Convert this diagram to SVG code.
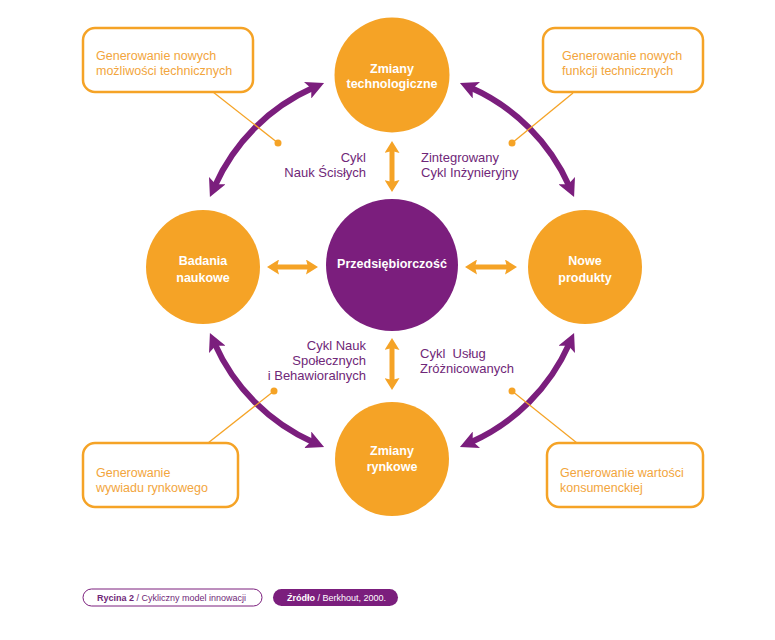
<svg xmlns="http://www.w3.org/2000/svg" width="775" height="640" viewBox="0 0 775 640">
<style>
.orn{fill:#F5A326}
.pur{fill:#7B1E7D}
.nlab{font-family:"Liberation Sans",Arial,sans-serif;font-weight:bold;font-size:12.5px;fill:#fff;text-anchor:middle}
.plab{font-family:"Liberation Sans",Arial,sans-serif;font-size:13px;fill:#6F2778}
.box{fill:#fff;stroke:#F5A326;stroke-width:2.5}
.btxt{font-family:"Liberation Sans",Arial,sans-serif;font-size:12.5px;fill:#F2A53C}
.lead{stroke:#F5A326;stroke-width:1.3;fill:none}
.parc{stroke:#7B1E7D;stroke-width:6;fill:none;marker-start:url(#pa);marker-end:url(#pa)}
.oarr{stroke:#F5A326;stroke-width:5;fill:none;marker-start:url(#oa);marker-end:url(#oa)}
.foot{font-family:"Liberation Sans",Arial,sans-serif;font-size:9px}
</style>
<defs>
<marker id="pa" viewBox="0 0 18 18" refX="6" refY="9" markerWidth="18" markerHeight="18" markerUnits="userSpaceOnUse" orient="auto-start-reverse">
<path d="M0,0 L18,9 L0,18 L4,9 z" fill="#7B1E7D"/>
</marker>
<marker id="oa" viewBox="0 0 12 15" refX="4" refY="7.5" markerWidth="12" markerHeight="15" markerUnits="userSpaceOnUse" orient="auto-start-reverse">
<path d="M0,0 L12,7.5 L0,15 L2,7.5 z" fill="#F5A326"/>
</marker>
</defs>
<rect width="775" height="640" fill="#fff"/>

<g id="connectors">
<path class="parc" d="M214.8,186.1 A194,194 0 0 1 313.1,87.8"/>
<path class="parc" d="M470.9,87.8 A194,194 0 0 1 569.2,186.1"/>
<path class="parc" d="M569.2,343.9 A194,194 0 0 1 470.9,442.2"/>
<path class="parc" d="M313.1,442.2 A194,194 0 0 1 214.8,343.9"/>
<path class="oarr" d="M275,267 L310,267"/>
<path class="oarr" d="M473,267 L509,267"/>
<path class="oarr" d="M392,149 L392,184"/>
<path class="oarr" d="M392,346 L392,382"/>
<path class="lead" d="M213,92 L278,143"/>
<path class="lead" d="M573,93 L512,143"/>
<path class="lead" d="M208,443 L274,391"/>
<path class="lead" d="M577,443 L512,391"/>
<circle class="orn" cx="278" cy="143" r="3.5"/>
<circle class="orn" cx="512" cy="143" r="3.5"/>
<circle class="orn" cx="274" cy="391" r="3.5"/>
<circle class="orn" cx="512" cy="391" r="3.5"/>
</g>

<g id="node-tech">
<circle class="orn" cx="392" cy="75" r="57.5"/>
<text class="nlab" x="392" y="73">Zmiany</text>
<text class="nlab" x="392" y="88">technologiczne</text>
</g>
<g id="node-badania">
<circle class="orn" cx="203" cy="267" r="57"/>
<text class="nlab" x="203" y="265">Badania</text>
<text class="nlab" x="203" y="282">naukowe</text>
</g>
<g id="node-przeds">
<circle class="pur" cx="392" cy="265" r="66"/>
<text class="nlab" x="392" y="268">Przedsiębiorczość</text>
</g>
<g id="node-nowe">
<circle class="orn" cx="585" cy="267" r="57"/>
<text class="nlab" x="585" y="265">Nowe</text>
<text class="nlab" x="585" y="282">produkty</text>
</g>
<g id="node-rynek">
<circle class="orn" cx="392" cy="459" r="57"/>
<text class="nlab" x="392" y="455">Zmiany</text>
<text class="nlab" x="392" y="471">rynkowe</text>
</g>

<g id="labels">
<text class="plab" x="366" y="162" text-anchor="end">Cykl</text>
<text class="plab" x="366" y="177" text-anchor="end">Nauk Ścisłych</text>
<text class="plab" x="421" y="162">Zintegrowany</text>
<text class="plab" x="421" y="177">Cykl Inżynieryjny</text>
<text class="plab" x="366" y="350" text-anchor="end">Cykl Nauk</text>
<text class="plab" x="366" y="365" text-anchor="end">Społecznych</text>
<text class="plab" x="366" y="380" text-anchor="end">i Behawioralnych</text>
<text class="plab" x="420" y="358" xml:space="preserve">Cykl  Usług</text>
<text class="plab" x="420" y="373">Zróżnicowanych</text>
</g>

<g id="box-tl">
<rect class="box" x="83" y="28" width="170" height="64" rx="12"/>
<text class="btxt" x="96" y="60">Generowanie nowych</text>
<text class="btxt" x="96" y="75">możliwości technicznych</text>
</g>
<g id="box-tr">
<rect class="box" x="543" y="28" width="160" height="64" rx="12"/>
<text class="btxt" x="562" y="60">Generowanie nowych</text>
<text class="btxt" x="562" y="75">funkcji technicznych</text>
</g>
<g id="box-bl">
<rect class="box" x="83" y="443" width="155" height="64" rx="12"/>
<text class="btxt" x="96" y="477">Generowanie</text>
<text class="btxt" x="96" y="492">wywiadu rynkowego</text>
</g>
<g id="box-br">
<rect class="box" x="547" y="443" width="156" height="64" rx="12"/>
<text class="btxt" x="560" y="477">Generowanie wartości</text>
<text class="btxt" x="560" y="492">konsumenckiej</text>
</g>

<g id="footer">
<rect x="83" y="589" width="179" height="17" rx="8.5" fill="#fff" stroke="#7B1E7D" stroke-width="1"/>
<text class="foot" x="97" y="601" fill="#6F2778"><tspan font-weight="bold">Rycina 2</tspan> / Cykliczny model innowacji</text>
<rect x="273" y="589" width="125" height="17" rx="8.5" fill="#7B1E7D"/>
<text class="foot" x="287" y="601" fill="#fff"><tspan font-weight="bold">Źródło</tspan> / Berkhout, 2000.</text>
</g>
</svg>
